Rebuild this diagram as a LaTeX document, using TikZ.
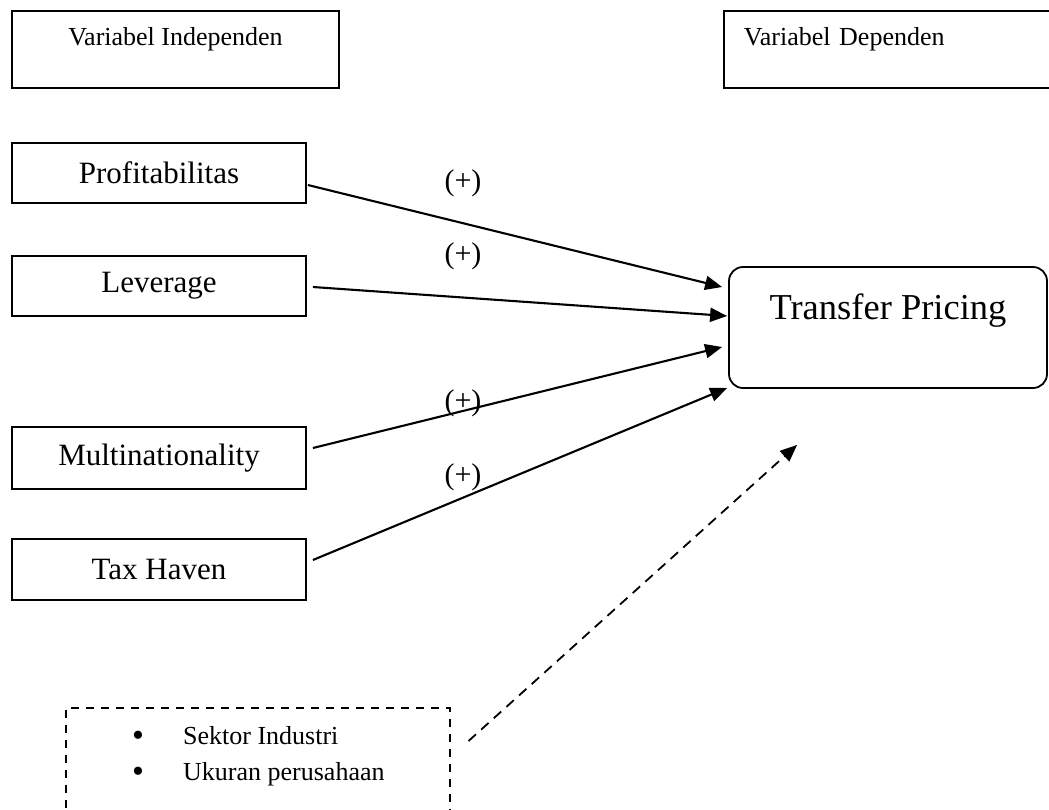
\documentclass[tikz,border=0pt]{standalone}
\usepackage{fontspec}
\setmainfont{Liberation Serif}
\usetikzlibrary{arrows.meta,calc}
\tikzset{
  box/.style={draw, line width=1.8pt, inner sep=0pt, minimum width=294pt},
  hdrbox/.style={draw, line width=1.8pt, inner sep=0pt},
  conn/.style={line width=2.1pt, -{Triangle[length=17pt,width=14pt]}},
  dconn/.style={line width=1.8pt, dash pattern=on 10pt off 7pt, -{Triangle[length=17pt,width=14pt]}},
  sign/.style={font=\fontsize{30}{36}\selectfont, inner sep=0pt},
  small/.style={font=\fontsize{26}{31}\selectfont},
  mid/.style={font=\fontsize{31}{37}\selectfont},
}
\newcommand{\bigbul}{\smash{\raisebox{-2pt}{\fontsize{34}{34}\selectfont\textbullet}}}
\begin{document}
\begin{tikzpicture}[x=1pt,y=-1pt]
\clip (0,0) rectangle (1049,809);
\fill[white] (0,0) rectangle (1049,809);
% header boxes
\node[hdrbox, small, anchor=north, minimum width=327pt, text height=35pt, text depth=42pt] (indep) at (175.5,10) {Variabel Independen};
\node[hdrbox, small, anchor=north west, text width=300pt, inner xsep=20pt, align=left, text height=35pt, text depth=42pt] (dep) at (723,10) {Variabel Dependen};
% independent variables
\node[box, mid, minimum height=60pt] (prof) at (159,173) {Profitabilitas};
\node[box, mid, minimum height=60pt] (lev) at (159,286) {Leverage};
\node[box, mid, minimum height=62pt] (mult) at (159,458) {Multinationality};
\node[box, mid, minimum height=61pt] (tax) at (159,569.5) {Tax Haven};
% dependent
\node[draw, line width=1.8pt, rounded corners=14pt, inner sep=0pt, minimum width=318pt, text height=52pt, text depth=69pt, font=\fontsize{36.5}{44}\selectfont] (tp) at (888,327.5) {Transfer Pricing};
% control box
\node[draw, line width=1.5pt, dash pattern=on 8pt off 7pt, anchor=north west, minimum width=384pt, minimum height=130pt, inner sep=0pt] (ctrl) at (65,707) {};
\node[small, anchor=west, inner sep=0pt, align=left] (ctrltext) at (132,755) {\fontsize{26}{36}\selectfont\begin{tabular}{@{}p{51pt}@{}l@{}}\bigbul & Sektor Industri\\ \bigbul & Ukuran perusahaan\end{tabular}};
% connectors
\draw[conn] ($(prof.east)+(1,12)$) -- ($(tp.west)+(-6,-40.5)$);
\draw[conn] ($(lev.east)+(6,1)$) -- ($(tp.west)+(-1,-11.5)$);
\draw[conn] ($(mult.east)+(6,-10)$) -- ($(tp.west)+(-6,19.5)$);
\draw[conn] ($(tax.east)+(6,-9.5)$) -- ($(tp.west)+(-1,60.5)$);
\coordinate (dstart) at ($(ctrl.north east)+(18,34)$);
\coordinate (dend) at ($(tp.south west)+(69,56)$);
\draw[dconn] (dstart) -- (dend);
% signs
\node[sign] (s1) at (463,183) {(+)};
\node[sign] (s2) at (463,256) {(+)};
\node[sign] (s3) at (463,403) {(+)};
\node[sign] (s4) at (463,477) {(+)};
\end{tikzpicture}
\end{document}
